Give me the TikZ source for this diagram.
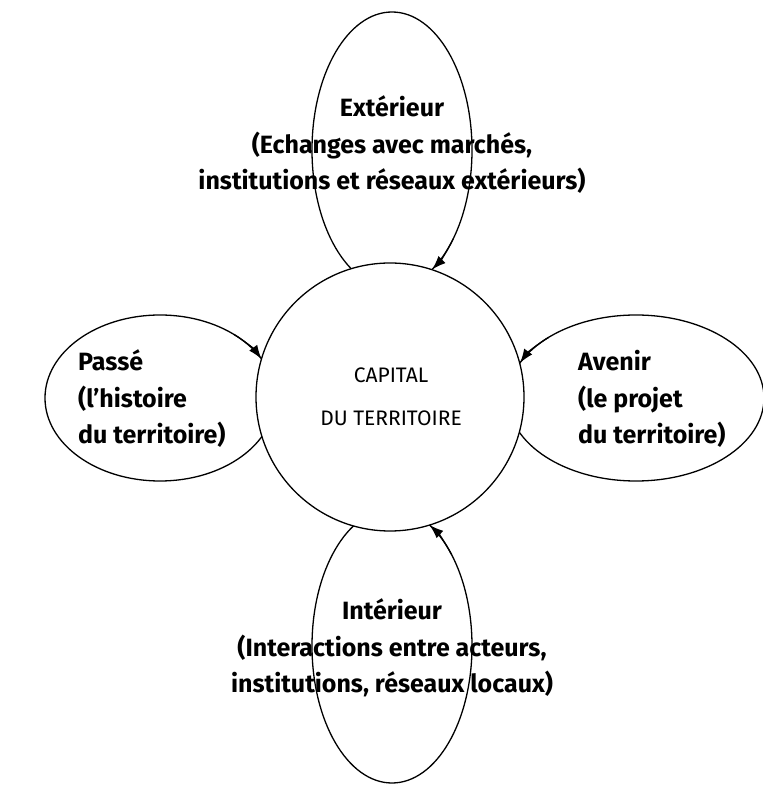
\documentclass[tikz,border=0pt]{standalone}
\usepackage{fontspec}
\setmainfont{Fira Sans}
\usetikzlibrary{shapes.geometric,arrows.meta}
\begin{document}
\begin{tikzpicture}[x=1pt,y=1pt,
  ring/.style={draw, ellipse, line width=1.3pt, inner sep=0pt, outer sep=0pt},
  lbl/.style={font=\fontsize{25}{36.5}\selectfont\bfseries, inner sep=0pt},
  tip/.style={line width=1.3pt, -{Latex[length=14pt,width=10pt,fill=black]}}]
\useasboundingbox (0,0) rectangle (763,785);
% ellipses
\node[ring, minimum width=160pt, minimum height=276pt] (ext) at (392,635) {};
\node[ring, minimum width=160pt, minimum height=274pt] (int) at (392,139) {};
\node[ring, minimum width=230pt, minimum height=166pt] (pas) at (160,387) {};
\node[ring, minimum width=256pt, minimum height=166pt] (ave) at (636,387) {};
% central circle
\node[draw, circle, fill=white, line width=1.3pt, minimum size=268pt, inner sep=0pt] (cap) at (390,388) {};
% arrows (ends of the ellipses)
\draw[tip] ([shift={(-40:80pt and 138pt)}]ext.center) arc[start angle=-40, end angle=-60, x radius=80pt, y radius=138pt];
\draw[tip] ([shift={(42:80pt and 137pt)}]int.center) arc[start angle=42, end angle=62, x radius=80pt, y radius=137pt];
\draw[tip] ([shift={(50:115pt and 83pt)}]pas.center) arc[start angle=50, end angle=28, x radius=115pt, y radius=83pt];
\draw[tip] ([shift={(133:128pt and 83pt)}]ave.center) arc[start angle=133, end angle=155, x radius=128pt, y radius=83pt];
% labels
\node[lbl, align=center] (extl) at (392,640) {Extérieur\\(Echanges avec marchés,\\institutions et réseaux extérieurs)};
\node[lbl, align=center] (intl) at (392,137) {Intérieur\\(Interactions entre acteurs,\\institutions, réseaux locaux)};
\node[lbl, align=left, anchor=west] (pasl) at (78,386) {Passé\\(l’histoire\\du territoire)};
\node[lbl, align=left, anchor=west] (avel) at (578,386) {Avenir\\(le projet\\du territoire)};
\node[font=\fontsize{21}{43}\selectfont, align=center, inner sep=0pt] (capl) at (391,388) {CAPITAL\\DU TERRITOIRE};
\end{tikzpicture}
\end{document}
